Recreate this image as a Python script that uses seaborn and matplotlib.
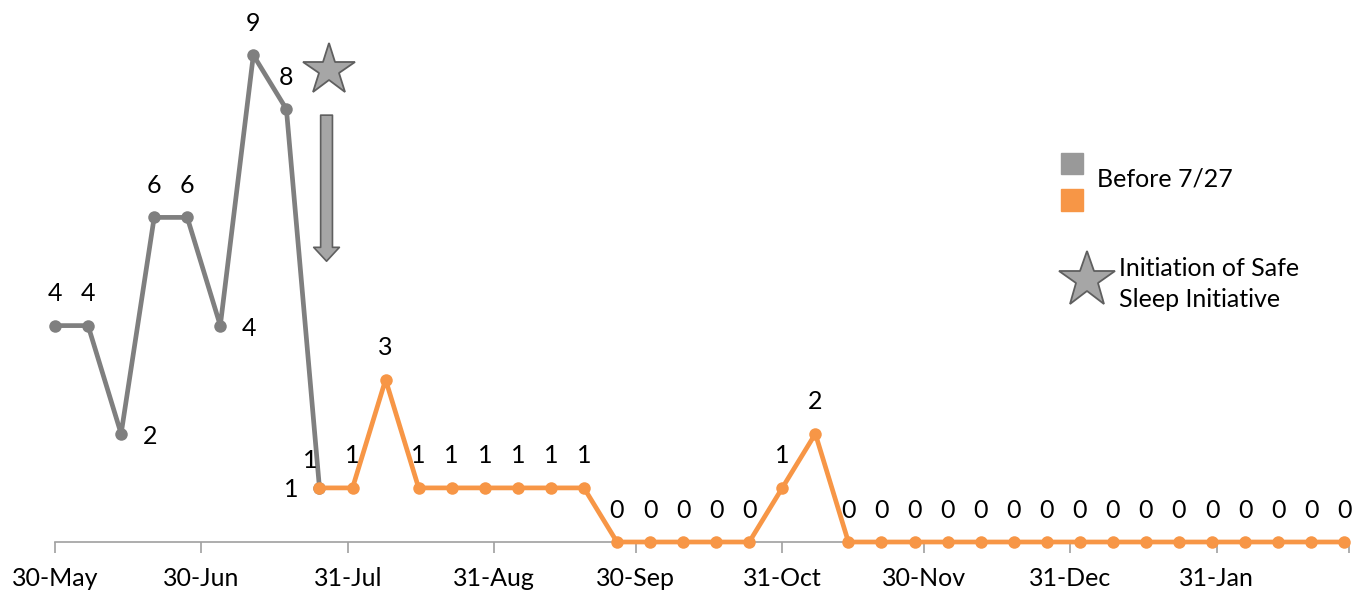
import matplotlib
matplotlib.use('Agg')
import matplotlib.pyplot as plt
from matplotlib.patches import Rectangle
import seaborn as sns
import pandas as pd

# --
# Data (weekly counts)

before_dates = ['2016-05-30', '2016-06-06', '2016-06-13', '2016-06-20', '2016-06-27',
                '2016-07-04', '2016-07-11', '2016-07-18', '2016-07-25']
before_vals = [4, 4, 2, 6, 6, 4, 9, 8, 1]

after_dates = ['2016-07-25', '2016-08-01', '2016-08-08', '2016-08-15', '2016-08-22',
               '2016-08-29', '2016-09-05', '2016-09-12', '2016-09-19', '2016-09-26',
               '2016-10-03', '2016-10-10', '2016-10-17', '2016-10-24', '2016-10-31',
               '2016-11-07', '2016-11-14', '2016-11-21', '2016-11-28', '2016-12-05',
               '2016-12-12', '2016-12-19', '2016-12-26', '2017-01-02', '2017-01-09',
               '2017-01-16', '2017-01-23', '2017-01-30', '2017-02-06', '2017-02-13',
               '2017-02-20', '2017-02-27']
after_vals = [1, 1, 3, 1, 1, 1, 1, 1, 1, 0, 0, 0, 0, 0, 1, 2,
              0, 0, 0, 0, 0, 0, 0, 0, 0, 0, 0, 0, 0, 0, 0, 0]

tick_dates = ['2016-05-30', '2016-06-30', '2016-07-31', '2016-08-31', '2016-09-30',
              '2016-10-31', '2016-11-30', '2016-12-31', '2017-01-31', '2017-02-28']
tick_labels = ['30-May', '30-Jun', '31-Jul', '31-Aug', '30-Sep',
               '31-Oct', '30-Nov', '31-Dec', '31-Jan', '']

initiative_date = '2016-07-27'

before = pd.DataFrame({'date': pd.to_datetime(before_dates), 'n': before_vals})
after = pd.DataFrame({'date': pd.to_datetime(after_dates), 'n': after_vals})

GRAY = '#7f7f7f'
ORANGE = '#f79646'
STAR_FILL = '#a6a6a6'
STAR_EDGE = '#5f5f5f'
FS = 18

# --
# Plot

sns.set_style('white')
plt.rcParams['font.family'] = ['Lato', 'DejaVu Sans']
plt.rcParams['text.color'] = 'black'
plt.rcParams['xtick.color'] = 'black'

fig = plt.figure(figsize=(13.54, 5.94), dpi=100)
ax = fig.add_axes([55 / 1354, 52 / 594, 1294 / 1354, 541 / 594])

sns.lineplot(data=before, x='date', y='n', ax=ax, color=GRAY, linewidth=3.4,
             marker='o', markersize=9, markeredgewidth=0, zorder=2, clip_on=False)
sns.lineplot(data=after, x='date', y='n', ax=ax, color=ORANGE, linewidth=3.4,
             marker='o', markersize=9, markeredgewidth=0, zorder=3, clip_on=False)

# data labels
before_off = [(0, 23), (0, 23), (21, -2), (0, 23), (0, 23), (21, -2), (0, 23), (0, 23), (-20, -1)]
for d, v, off in zip(before['date'], before['n'], before_off):
    ax.annotate(str(v), (d, v), xytext=off, textcoords='offset points',
                ha='center', va='center', fontsize=FS)
for i, (d, v) in enumerate(zip(after['date'], after['n'])):
    off = (-6.5, 19.5) if i == 0 else (0, 23)
    ax.annotate(str(v), (d, v), xytext=off, textcoords='offset points',
                ha='center', va='center', fontsize=FS)

# initiative star + arrow
init = pd.Timestamp(initiative_date)
ax.plot([init], [8.72], marker='*', markersize=39, markerfacecolor=STAR_FILL,
        markeredgecolor=STAR_EDGE, markeredgewidth=1.3, linestyle='none', zorder=4)
ax.annotate('', xy=(init - pd.Timedelta(days=0.5), 5.19),
            xytext=(init - pd.Timedelta(days=0.5), 7.89),
            arrowprops=dict(arrowstyle='simple,head_length=1.0,head_width=1.85,tail_width=0.85',
                            mutation_scale=10, fc=STAR_FILL, ec=STAR_EDGE, lw=1.2,
                            shrinkA=0, shrinkB=0))

# axes styling
ax.set_xlim(pd.Timestamp('2016-05-30'), pd.Timestamp('2017-02-28'))
ax.set_ylim(0, 10)
ax.set_xticks(pd.to_datetime(tick_dates))
ax.set_xticklabels(tick_labels, fontsize=FS)
ax.set_yticks([])
ax.set_xlabel('')
ax.set_ylabel('')
for s in ['top', 'right', 'left']:
    ax.spines[s].set_visible(False)
ax.spines['bottom'].set_color('#a0a0a0')
ax.spines['bottom'].set_linewidth(1.2)
ax.tick_params(axis='x', direction='out', length=8, width=1.2, color='#a0a0a0',
               labelcolor='black', pad=10, bottom=True)
ax.patch.set_alpha(0)

# legend (manual layout)
def fx(px):
    return px / 1354

def fy(py):
    return 1 - py / 594

fig.patches.append(Rectangle((fx(1061), fy(174)), 22 / 1354, 21 / 594,
                             transform=fig.transFigure, color='#999999'))
fig.patches.append(Rectangle((fx(1061), fy(211)), 22 / 1354, 22 / 594,
                             transform=fig.transFigure, color=ORANGE))
fig.text(fx(1097), fy(179), 'Before 7/27', fontsize=FS, va='center', ha='left')
fig.lines.append(plt.Line2D([fx(1087)], [fy(280)], marker='*', markersize=42,
                            markerfacecolor=STAR_FILL, markeredgecolor=STAR_EDGE,
                            markeredgewidth=1.3, transform=fig.transFigure))
fig.text(fx(1119), fy(284), 'Initiation of Safe\nSleep Initiative', fontsize=FS,
         va='center', ha='left', linespacing=1.45)

fig.savefig('out.png', dpi=100)
